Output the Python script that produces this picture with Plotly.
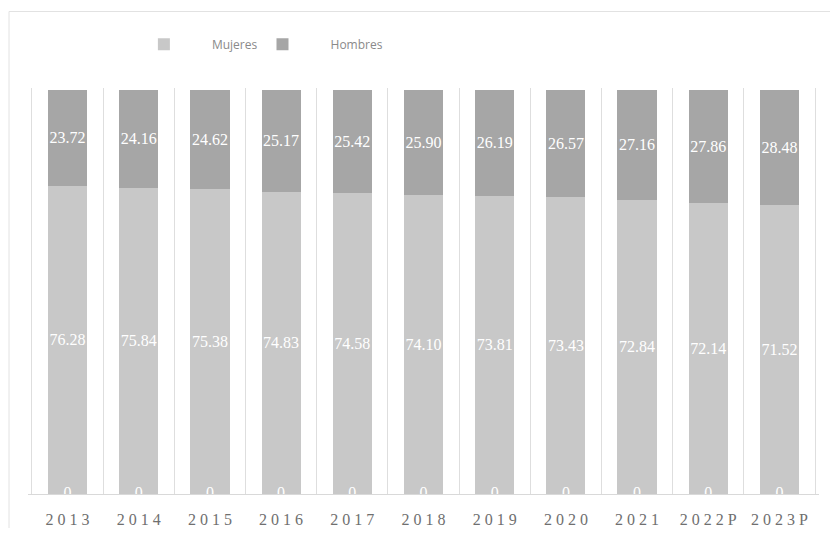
import plotly.graph_objects as go

# Datos (porcentajes)
anios = ["2013", "2014", "2015", "2016", "2017", "2018", "2019", "2020", "2021", "2022P", "2023P"]
mujeres = [76.28, 75.84, 75.38, 74.83, 74.58, 74.10, 73.81, 73.43, 72.84, 72.14, 71.52]
hombres = [23.72, 24.16, 24.62, 25.17, 25.42, 25.90, 26.19, 26.57, 27.16, 27.86, 28.48]
cero = [0] * len(anios)

# Etiquetas del eje con espaciado entre caracteres
etiquetas = [" ".join(a) for a in anios]

label_font = dict(family="Liberation Serif", size=16, color="white")
pad = "\u00a0" * 9

fig = go.Figure()

fig.add_trace(
    go.Bar(
        x=anios,
        y=mujeres,
        name=pad + "Mujeres",
        marker=dict(color="#c8c8c8", line=dict(width=0)),
        text=[f"{v:.2f}" for v in mujeres],
        textposition="inside",
        insidetextanchor="middle",
        textangle=0,
        constraintext="none",
        textfont=label_font,
    )
)
fig.add_trace(
    go.Bar(
        x=anios,
        y=hombres,
        name=pad + "Hombres",
        marker=dict(color="#a6a6a6", line=dict(width=0)),
        text=[f"{v:.2f}" for v in hombres],
        textposition="inside",
        insidetextanchor="middle",
        textangle=0,
        constraintext="none",
        textfont=label_font,
    )
)

# Serie en cero (etiquetas "0" sobre el eje)
fig.add_trace(
    go.Scatter(
        x=anios,
        y=cero,
        mode="text",
        text=[str(v) for v in cero],
        textposition="middle center",
        textfont=label_font,
        cliponaxis=True,
        showlegend=False,
        hoverinfo="skip",
    )
)

# La página añade 8px de margen, por eso la figura es algo menor
fig.update_layout(
    template="none",
    barmode="stack",
    bargap=0.45,
    width=822,
    height=520,
    margin=dict(l=20, r=11, t=80, b=34, autoexpand=False),
    paper_bgcolor="white",
    plot_bgcolor="white",
    font=dict(family="Liberation Serif"),
    legend=dict(
        orientation="h",
        traceorder="normal",
        x=0.1465,
        xanchor="left",
        y=1.108,
        yanchor="middle",
        font=dict(family="Open Sans, sans-serif", size=12, color="#8a8a8a"),
        itemwidth=30,
        bgcolor="rgba(0,0,0,0)",
    ),
    shapes=[
        dict(
            type="rect",
            xref="paper",
            yref="paper",
            x0=-0.024,
            x1=1.05,
            y0=-0.2,
            y1=1.1885,
            line=dict(color="#e2e2e2", width=1),
            layer="below",
        )
    ],
    showlegend=True,
)

fig.update_xaxes(
    type="category",
    tickvals=anios,
    ticktext=etiquetas,
    tickson="boundaries",
    showgrid=True,
    gridcolor="#dedede",
    gridwidth=1,
    showline=True,
    linecolor="#d9d9d9",
    linewidth=1,
    ticks="",
    ticklabelstandoff=11,
    automargin=False,
    tickfont=dict(family="Liberation Serif", size=16, color="#6f6f6f"),
)

fig.update_yaxes(
    range=[0, 100.5],
    showticklabels=False,
    showgrid=False,
    zeroline=False,
    showline=False,
    automargin=False,
)

fig.write_html("out.html")
